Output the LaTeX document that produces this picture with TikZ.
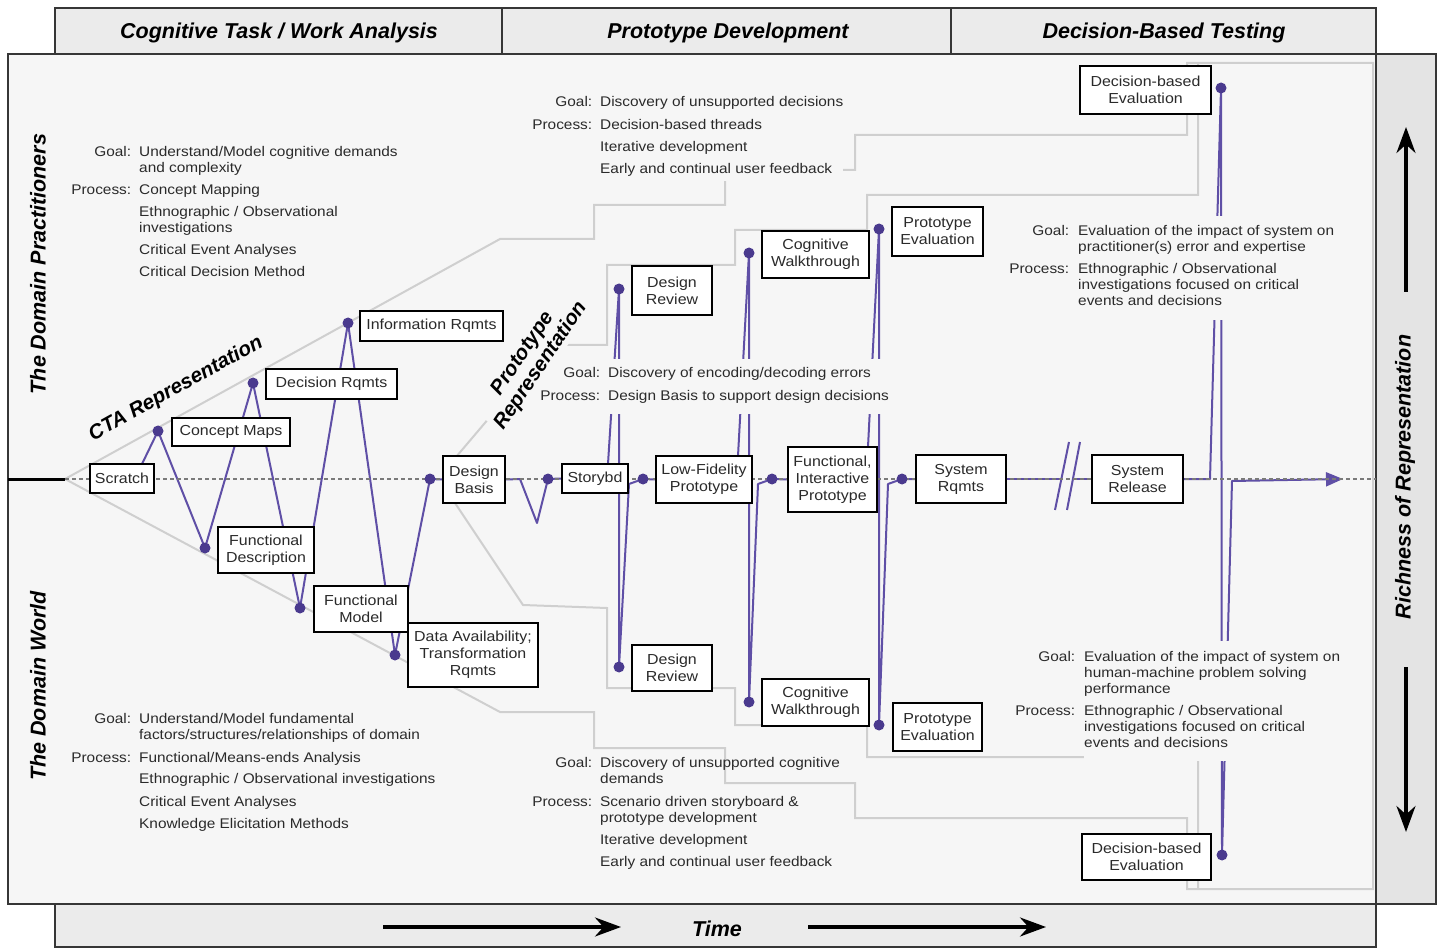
\documentclass[tikz,border=0pt]{standalone}
\usepackage{fontspec}
\setmainfont{Liberation Sans}
\newfontfamily\bodyfont[FakeStretch=1.1]{Liberation Sans}
\usetikzlibrary{arrows.meta}
\pgfdeclarelayer{bg}
\pgfdeclarelayer{back}
\pgfsetlayers{bg,back,main}

\definecolor{panel}{HTML}{F6F6F6}
\definecolor{band}{HTML}{EBEBEB}
\definecolor{rail}{HTML}{E4E4E4}
\definecolor{framec}{HTML}{363636}
\definecolor{stairc}{HTML}{CFCFCF}
\definecolor{threadc}{HTML}{5F4FA6}
\definecolor{dotc}{HTML}{4A3A8E}
\definecolor{ink}{HTML}{2A2A2A}
\definecolor{axisc}{HTML}{7A7A7A}

\begin{document}
\begin{tikzpicture}[x=1pt,y=-1pt,
  frame/.style={draw=framec, line width=2pt},
  stagebox/.style={draw=black, line width=1.8pt, fill=white, align=center,
    inner sep=0pt, text=ink, font=\bodyfont\fontsize{14.5}{17}\selectfont},
  knot/.style={circle, fill=dotc, inner sep=0pt, minimum size=11pt},
  thread/.style={draw=threadc, line width=2pt, line join=round},
  stair/.style={draw=stairc, line width=2pt},
  axisdash/.style={draw=axisc, line width=1.5pt, dash pattern=on 4pt off 3pt},
  brief/.style={anchor=base west, inner xsep=0pt, inner ysep=0pt, text=ink,
    font=\bodyfont\fontsize{14}{16}\selectfont},
  textmask/.style={fill=panel},
  heading/.style={text=black, font=\bfseries\itshape\fontsize{21.5}{24}\selectfont},
  bigarrow/.style={line width=3.2pt, -{Stealth[length=26pt,width=19pt]}},
]
\useasboundingbox (0,0) rectangle (1438,949);

% ---------- frames and bands ----------
\begin{pgfonlayer}{bg}
  \fill[white] (0,0) rectangle (1438,949);
  \draw[frame, fill=band] (55,8) rectangle (1376,54);
  \draw[frame] (502,8) -- (502,54);
  \draw[frame] (951,8) -- (951,54);
  \draw[frame, fill=band] (55,904) rectangle (1376,947);
  \draw[frame, fill=rail] (1376,54) rectangle (1436,904);
  \draw[frame, fill=panel] (8,54) rectangle (1376,904);
\end{pgfonlayer}

% ---------- stage boxes ----------
\node[stagebox, minimum width=64, minimum height=29] (scratch) at (122,478.5) {Scratch};
\node[stagebox, minimum width=118, minimum height=28] (cmaps) at (231,432) {Concept Maps};
\node[stagebox, minimum width=131, minimum height=30] (drq) at (331.5,384) {Decision Rqmts};
\node[stagebox, minimum width=143, minimum height=30] (irq) at (431.5,326) {Information Rqmts};
\node[stagebox, minimum width=96, minimum height=46] (fdesc) at (266,550) {Functional\\Description};
\node[stagebox, minimum width=94, minimum height=46] (fmodel) at (361,609) {Functional\\Model};
\node[stagebox, minimum width=130, minimum height=64] (davail) at (473,655) {Data Availability;\\Transformation\\Rqmts};
\node[stagebox, minimum width=62, minimum height=47] (dbasis) at (474,479.5) {Design\\Basis};
\node[stagebox, minimum width=66, minimum height=29] (storybd) at (595,478.5) {Storybd};
\node[stagebox, minimum width=80, minimum height=49] (revup) at (672,290.5) {Design\\Review};
\node[stagebox, minimum width=80, minimum height=46] (revdn) at (672,668) {Design\\Review};
\node[stagebox, minimum width=96, minimum height=47] (lowfi) at (704,479.5) {Low-Fidelity\\Prototype};
\node[stagebox, minimum width=107, minimum height=47] (walkup) at (815.5,254.5) {Cognitive\\Walkthrough};
\node[stagebox, minimum width=107, minimum height=47] (walkdn) at (815.5,702.5) {Cognitive\\Walkthrough};
\node[stagebox, minimum width=89, minimum height=65] (fip) at (832.5,479.5) {Functional,\\Interactive\\Prototype};
\node[stagebox, minimum width=91, minimum height=49] (evalup) at (937.5,231.5) {Prototype\\Evaluation};
\node[stagebox, minimum width=89, minimum height=48] (evaldn) at (937.5,727) {Prototype\\Evaluation};
\node[stagebox, minimum width=90, minimum height=48] (sysrq) at (961,479) {System\\Rqmts};
\node[stagebox, minimum width=91, minimum height=48] (sysrel) at (1137.5,479) {System\\Release};
\node[stagebox, minimum width=131, minimum height=48] (dbeup) at (1145.5,90) {Decision-based\\Evaluation};
\node[stagebox, minimum width=129, minimum height=46] (dbedn) at (1146.5,857) {Decision-based\\Evaluation};

% ---------- knots on the thread ----------
\node[knot] (k1) at (158,431) {};
\node[knot] (k2) at (205,548) {};
\node[knot] (k3) at (253,383) {};
\node[knot] (k4) at (300,608) {};
\node[knot] (k5) at (348,323) {};
\node[knot] (k6) at (395,655) {};
\node[knot] (k7) at (430,479) {};
\node[knot] (k8) at (548,479) {};
\node[knot] (k9) at (619,289) {};
\node[knot] (k10) at (619,667) {};
\node[knot] (k11) at (643,479) {};
\node[knot] (k12) at (749,253) {};
\node[knot] (k13) at (749,702) {};
\node[knot] (k14) at (772,479) {};
\node[knot] (k15) at (879,229) {};
\node[knot] (k16) at (879,725) {};
\node[knot] (k17) at (902,479) {};
\node[knot] (k18) at (1221,88) {};
\node[knot] (k19) at (1222,855) {};

% ---------- bend points of the thread ----------
\coordinate (s0) at (142,464);
\coordinate (v1) at (520,479);
\coordinate (v2) at (537,523);
\coordinate (sb0) at (608,464);
\coordinate (sb1) at (629,484);
\coordinate (lf0) at (738,456);
\coordinate (lf1) at (758,484);
\coordinate (fp0) at (868,447);
\coordinate (fp1) at (888,484);
\coordinate (br0) at (1061,479);
\coordinate (br1) at (1074,479);
\coordinate (tw0) at (1210,479);
\coordinate (tw1) at (1232,481);
\coordinate (tip) at (1343,479);
\coordinate (sl1a) at (1055,510);
\coordinate (sl1b) at (1069,442);
\coordinate (sl2a) at (1067,510);
\coordinate (sl2b) at (1080,442);
\coordinate (ax0) at (8,479);
\coordinate (ax1) at (65,479);
\coordinate (ax2) at (1376,479);

\begin{pgfonlayer}{back}
  % staircase outlines of the representation space
  \draw[stair, line join=miter] (ax1) -- (500,239) -- (594,239) -- (594,205) -- (725,205)
    -- (725,170) -- (855,170) -- (855,135) -- (1187,135) -- (1187,63) -- (1373,63)
    -- (1373,889) -- (1187,889) -- (1187,818) -- (855,818) -- (855,783) -- (725,783)
    -- (725,748) -- (594,748) -- (594,712) -- (500,712) -- cycle;
  \draw[stair] (445,470) -- (551,345) -- (607,345) -- (607,265) -- (735,265) -- (735,230)
    -- (867,230) -- (867,195) -- (1198,195) -- (1198,63);
  \draw[stair] (445,488) -- (523,605) -- (607,608) -- (607,688) -- (735,688) -- (735,725)
    -- (867,725) -- (867,757) -- (1198,757) -- (1198,889);

  % the design thread
  \draw[thread] (s0) -- (k1.center) -- (k2.center) -- (k3.center) -- (k4.center)
    -- (k5.center) -- (k6.center) -- (k7.center) -- (dbasis.west);
  \draw[thread] (dbasis.east) -- (v1) -- (v2) -- (k8.center) -- (storybd.west);
  \draw[thread] (sb0) -- (k9.center) -- (k10.center) -- (sb1) -- (k11.center) -- (lowfi.west);
  \draw[thread] (lf0) -- (k12.center) -- (k13.center) -- (lf1) -- (k14.center) -- (fip.west);
  \draw[thread] (fp0) -- (k15.center) -- (k16.center) -- (fp1) -- (k17.center) -- (sysrq.west);
  \draw[thread] (sysrq.east) -- (br0);
  \draw[thread] (br1) -- (sysrel.west);
  \draw[thread] (sl1a) -- (sl1b);
  \draw[thread] (sl2a) -- (sl2b);
  \draw[thread, -{Triangle[length=17pt,width=14pt]}] (sysrel.east) -- (tw0) -- (k18.center)
    -- (k19.center) -- (tw1) -- (tip);

  % time axis
  \draw[line width=3pt, black] (ax0) -- (ax1);
  \draw[axisdash] (ax1) -- (ax2);
\end{pgfonlayer}

% ---------- goal / process notes ----------
\node[brief] (notecta) at (139,157) {\begin{tabular}[t]{@{}l@{}}
\llap{Goal:\hspace{8pt}}Understand/Model cognitive demands\\
and complexity\\[6pt]
\llap{Process:\hspace{8pt}}Concept Mapping\\[6pt]
Ethnographic / Observational\\
investigations\\[6pt]
Critical Event Analyses\\[6pt]
Critical Decision Method
\end{tabular}};

\node[brief] (noteworld) at (139,723) {\begin{tabular}[t]{@{}l@{}}
\llap{Goal:\hspace{8pt}}Understand/Model fundamental\\
factors/structures/relationships of domain\\[7pt]
\llap{Process:\hspace{8pt}}Functional/Means-ends Analysis\\[5pt]
Ethnographic / Observational investigations\\[7pt]
Critical Event Analyses\\[6pt]
Knowledge Elicitation Methods
\end{tabular}};

\node[brief, textmask, inner ysep=3pt] (notedec) at (600,107) {\begin{tabular}[t]{@{}l@{}}
\llap{Goal:\hspace{8pt}}Discovery of unsupported decisions\\[6.5pt]
\llap{Process:\hspace{8pt}}Decision-based threads\\[6pt]
Iterative development\\[6pt]
Early and continual user feedback
\end{tabular}};

\node[brief, textmask, inner ysep=8pt] (noteenc) at (608,378) {\begin{tabular}[t]{@{}l@{}}
\llap{Goal:\hspace{8pt}}Discovery of encoding/decoding errors\\[7pt]
\llap{Process:\hspace{8pt}}Design Basis to support design decisions
\end{tabular}};

\node[brief] (notecog) at (600,767) {\begin{tabular}[t]{@{}l@{}}
\llap{Goal:\hspace{8pt}}Discovery of unsupported cognitive\\
demands\\[7pt]
\llap{Process:\hspace{8pt}}Scenario driven storyboard \&\\
prototype development\\[6pt]
Iterative development\\[6pt]
Early and continual user feedback
\end{tabular}};

\node[brief, textmask, inner ysep=9pt] (noteprac) at (1078,236) {\begin{tabular}[t]{@{}l@{}}
\llap{Goal:\hspace{9pt}}Evaluation of the impact of system on\\
practitioner(s) error and expertise\\[6pt]
\llap{Process:\hspace{9pt}}Ethnographic / Observational\\
investigations focused on critical\\
events and decisions
\end{tabular}};

\node[brief, textmask, inner ysep=9pt] (notehm) at (1084,661) {\begin{tabular}[t]{@{}l@{}}
\llap{Goal:\hspace{9pt}}Evaluation of the impact of system on\\
human-machine problem solving\\
performance\\[6pt]
\llap{Process:\hspace{9pt}}Ethnographic / Observational\\
investigations focused on critical\\
events and decisions
\end{tabular}};

% ---------- headings ----------
\node[heading] (hcta) at (279,33) {Cognitive Task / Work Analysis};
\node[heading] (hproto) at (728,33) {Prototype Development};
\node[heading] (htest) at (1164,33) {Decision-Based Testing};
\node[heading] (htime) at (717,929) {Time};
\node[heading, rotate=90] (hrich) at (1405,477) {Richness of Representation};
\node[heading, rotate=90] (hprac) at (38,264) {The Domain Practitioners};
\node[heading, rotate=90] (hworld) at (38,686) {The Domain World};
\node[heading, rotate=29, font=\bfseries\itshape\fontsize{20.5}{22}\selectfont]
  (ctarep) at (176,389) {CTA Representation};
\node[heading, rotate=56, align=center, fill=panel, inner sep=1pt,
  font=\bfseries\itshape\fontsize{20.5}{22}\selectfont]
  (protorep) at (532,360) {Prototype\\Representation};

% ---------- axis arrows ----------
\coordinate (ru0) at (1406,292);
\coordinate (ru1) at (1406,127);
\coordinate (rd0) at (1406,667);
\coordinate (rd1) at (1406,832);
\coordinate (ta0) at (383,927);
\coordinate (ta1) at (621,927);
\coordinate (tb0) at (808,927);
\coordinate (tb1) at (1046,927);
\draw[bigarrow] (ru0) -- (ru1);
\draw[bigarrow] (rd0) -- (rd1);
\draw[bigarrow] (ta0) -- (ta1);
\draw[bigarrow] (tb0) -- (tb1);
\end{tikzpicture}
\end{document}
